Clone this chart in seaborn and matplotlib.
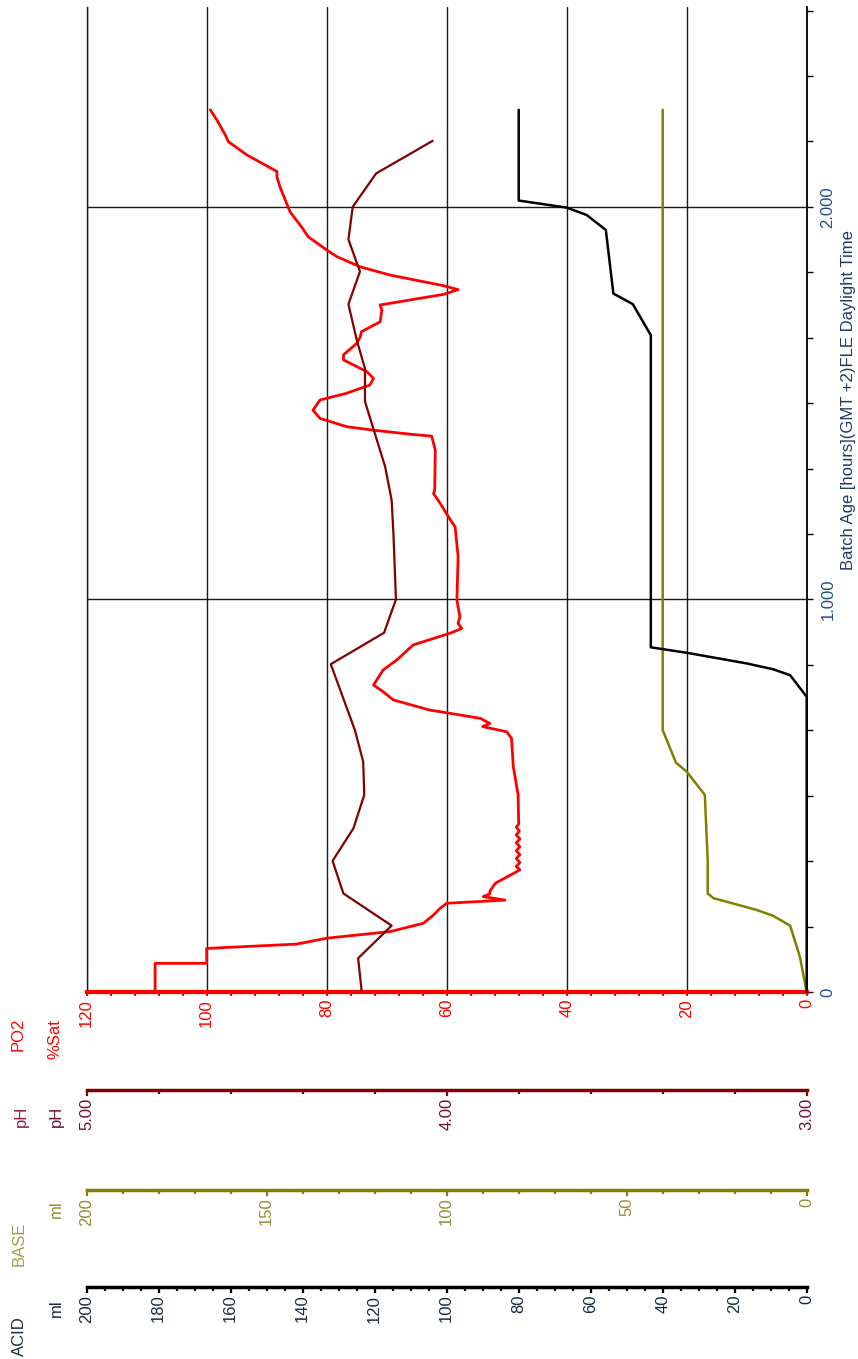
import numpy as np
import pandas as pd
import matplotlib
matplotlib.use("Agg")
import matplotlib.pyplot as plt
from matplotlib.ticker import MultipleLocator, FixedLocator, FormatStrFormatter
import seaborn as sns

sns.set_theme(style="ticks")
plt.rcParams["font.family"] = ["Liberation Sans", "DejaVu Sans"]

# ------------------------------------------------------------
# DATA (batch age in hours)
# ------------------------------------------------------------
po2_time = [0.000, 0.073, 0.073, 0.111, 0.122, 0.137, 0.154, 0.175, 0.196, 0.213,
            0.226, 0.234, 0.243, 0.250, 0.257, 0.277, 0.311, 0.320, 0.330, 0.340,
            0.350, 0.360, 0.370, 0.380, 0.390, 0.400, 0.410, 0.420, 0.428, 0.502,
            0.574, 0.646, 0.663, 0.672, 0.676, 0.684, 0.697, 0.714, 0.718, 0.744,
            0.765, 0.782, 0.820, 0.846, 0.884, 0.914, 0.926, 0.939, 0.956, 0.981,
            0.998, 1.109, 1.185, 1.198, 1.245, 1.270, 1.278, 1.380, 1.416, 1.420,
            1.431, 1.440, 1.461, 1.482, 1.508, 1.525, 1.546, 1.563, 1.580, 1.610,
            1.623, 1.652, 1.669, 1.682, 1.707, 1.737, 1.750, 1.777, 1.789, 1.799,
            1.826, 1.847, 1.873, 1.890, 1.924, 1.949, 1.987, 2.051, 2.077, 2.090,
            2.132, 2.166, 2.183, 2.221, 2.247]
po2_sat = [108.6, 108.6, 100.0, 100.0, 85.0, 80.0, 69.4, 63.9, 62.2, 61.1,
           60.0, 50.3, 53.9, 52.8, 52.8, 51.9, 47.8, 48.4, 47.8, 48.4,
           47.8, 48.4, 47.8, 48.4, 47.8, 48.4, 47.9, 48.4, 48.0, 48.1,
           48.9, 49.2, 50.0, 52.8, 54.0, 52.8, 54.4, 61.1, 62.8, 68.9,
           70.6, 72.2, 70.6, 68.3, 65.6, 59.4, 57.5, 58.1, 57.8, 58.1,
           58.3, 58.1, 58.6, 59.2, 61.1, 62.2, 62.0, 61.9, 62.5, 65.6,
           72.2, 76.7, 81.1, 82.3, 81.1, 76.7, 72.8, 72.2, 73.3, 77.2,
           77.2, 75.0, 74.4, 74.2, 71.1, 70.8, 71.1, 60.5, 58.1, 60.5,
           69.4, 74.4, 78.3, 80.0, 83.1, 84.2, 86.1, 87.8, 88.3, 88.3,
           93.3, 96.4, 96.9, 98.3, 99.4]

ph_time = [0.000, 0.086, 0.169, 0.251, 0.334, 0.417, 0.502, 0.587, 0.667, 0.835,
           0.915, 1.000, 1.168, 1.253, 1.338, 1.504, 1.588, 1.661, 1.752, 1.835,
           1.917, 2.000, 2.085, 2.168]
ph_val = [4.236, 4.246, 4.153, 4.287, 4.317, 4.259, 4.229, 4.232, 4.255, 4.322,
          4.174, 4.141, 4.148, 4.153, 4.171, 4.227, 4.227, 4.250, 4.273, 4.241,
          4.273, 4.261, 4.196, 4.039]

acid_time = [0.000, 0.752, 0.807, 0.822, 0.837, 0.864, 0.878, 1.673, 1.752, 1.779,
             1.941, 1.979, 1.998, 2.016, 2.247]
acid_ml = [0.0, 0.0, 4.6, 9.3, 16.7, 33.3, 43.3, 43.3, 48.3, 53.7,
           55.8, 61.1, 66.7, 80.0, 80.0]

base_time = [0.000, 0.090, 0.169, 0.194, 0.209, 0.239, 0.251, 0.335, 0.502, 0.561,
             0.584, 0.667, 2.247]
base_ml = [0.0, 1.9, 4.6, 9.3, 13.9, 25.9, 27.5, 27.5, 28.3, 33.3,
           36.3, 40.0, 40.0]

time_ticks = [0, 1, 2]
time_labels = ["0", "1.000", "2.000"]

# ------------------------------------------------------------
# LAYOUT HELPERS
# ------------------------------------------------------------
W, H = 858, 1359
X0, X1 = 86.7, 806.7
Y_TOP, Y_BOT = 6.7, 992.0
T_MAX = (Y_BOT - Y_TOP) / 392.6

RED = "#ff0000"
MAROON = "#800000"
OLIVE = "#808000"
BLUE = "#1f4e8c"


def fx(px):
    return px / W


def fy(py):
    return 1 - py / H


fig = plt.figure(figsize=(W / 100, H / 100), dpi=100)
ax = fig.add_axes([fx(X0), fy(Y_BOT), fx(X1) - fx(X0), (Y_BOT - Y_TOP) / H])


def line(target, x, y, color, lw):
    sns.lineplot(x=x, y=y, ax=target, orient="y", sort=False, estimator=None,
                 color=color, lw=lw)
    target.lines[-1].set_clip_on(False)


line(ax, po2_sat, po2_time, RED, 2.0)

ax.set_xlim(120, 0)
ax.set_ylim(0, T_MAX)
ax.set_xlabel("")
ax.set_ylabel("")
ax.grid(True, which="major", color="#1a1a1a", lw=1.0)
ax.set_axisbelow(True)

ax.xaxis.set_major_locator(MultipleLocator(20))
ax.xaxis.set_minor_locator(MultipleLocator(4))
ax.xaxis.set_major_formatter(FormatStrFormatter("%d"))
ax.tick_params(axis="x", which="both", bottom=True, direction="out", color=RED,
               labelcolor=RED, length=3, width=1.5, labelsize=12,
               labelrotation=90, pad=2)

ax.yaxis.tick_right()
ax.yaxis.set_major_locator(FixedLocator(time_ticks))
ax.set_yticklabels(time_labels)
ax.yaxis.set_minor_locator(MultipleLocator(1 / 6))
ax.tick_params(axis="y", which="both", right=True, left=False, direction="out",
               color="black", labelcolor=BLUE, length=4, width=1.0,
               labelsize=12, pad=6)
for lab in ax.get_yticklabels():
    lab.set_rotation(90)
    lab.set_va("center")

ax.spines["top"].set_visible(False)
ax.spines["left"].set_color("#1a1a1a")
ax.spines["left"].set_linewidth(1.0)
ax.spines["right"].set_color("black")
ax.spines["right"].set_linewidth(1.3)
ax.spines["bottom"].set_color(RED)
ax.spines["bottom"].set_linewidth(3)

# series on their own value scales
for lo, hi, tx, vals, col, lw in [(3, 5, ph_time, ph_val, MAROON, 1.6),
                                  (0, 200, base_time, base_ml, OLIVE, 1.8),
                                  (0, 200, acid_time, acid_ml, "black", 1.8)]:
    tw = ax.twiny()
    line(tw, vals, tx, col, lw)
    tw.set_xlim(hi, lo)
    tw.set_ylim(0, T_MAX)
    tw.xaxis.set_visible(False)
    tw.set_xlabel("")
    tw.set_ylabel("")
    for s in tw.spines.values():
        s.set_visible(False)


# ------------------------------------------------------------
# EXTRA SCALES BELOW THE PLOT
# ------------------------------------------------------------
def scale_axis(py, lo, hi, major, minor, color, labelcolor, fmt):
    sa = fig.add_axes([fx(X0), fy(py), fx(X1) - fx(X0), 0.0005])
    sa.set_xlim(hi, lo)
    sa.set_yticks([])
    for s in ["top", "left", "right"]:
        sa.spines[s].set_visible(False)
    sa.spines["bottom"].set_color(color)
    sa.spines["bottom"].set_linewidth(2.5)
    sa.xaxis.set_major_locator(MultipleLocator(major))
    sa.xaxis.set_minor_locator(MultipleLocator(minor))
    sa.xaxis.set_major_formatter(FormatStrFormatter(fmt))
    sa.tick_params(axis="x", which="major", bottom=True, direction="out",
                   color=color, labelcolor=labelcolor, length=4, width=1.6,
                   labelsize=12, labelrotation=90, pad=1.5)
    sa.tick_params(axis="x", which="minor", bottom=True, direction="out",
                   color=color, length=3, width=1.6)
    sa.patch.set_visible(False)
    return sa


scale_axis(1090, 3, 5, 1.0, 0.2, MAROON, "#6b1030", "%.2f")
scale_axis(1190, 0, 200, 50, 10, OLIVE, "#8f8f30", "%d")
scale_axis(1287, 0, 200, 20, 5, "black", "#1a2a40", "%d")

# ------------------------------------------------------------
# HEADER TEXTS (rotated, like the source)
# ------------------------------------------------------------
heads = [(18, 1018, "PO2", RED), (55, 1019, "%Sat", RED),
         (21, 1106, "pH", "#9b1535"), (56, 1106, "pH", "#6b1030"),
         (19, 1222, "BASE", "#a0a040"), (56, 1200, "ml", "#8f8f30"),
         (19, 1316, "ACID", "#1a2a40"), (56, 1299, "ml", "#1a2a40")]
for px, py, txt, col in heads:
    fig.text(fx(px), fy(py), txt, rotation=90, ha="center", va="top",
             color=col, fontsize=12)

fig.text(fx(849), fy(400), "Batch Age [hours](GMT +2)FLE Daylight Time",
         rotation=90, ha="center", va="center", color="#1f3864", fontsize=12)

fig.savefig("out.png", dpi=100)
